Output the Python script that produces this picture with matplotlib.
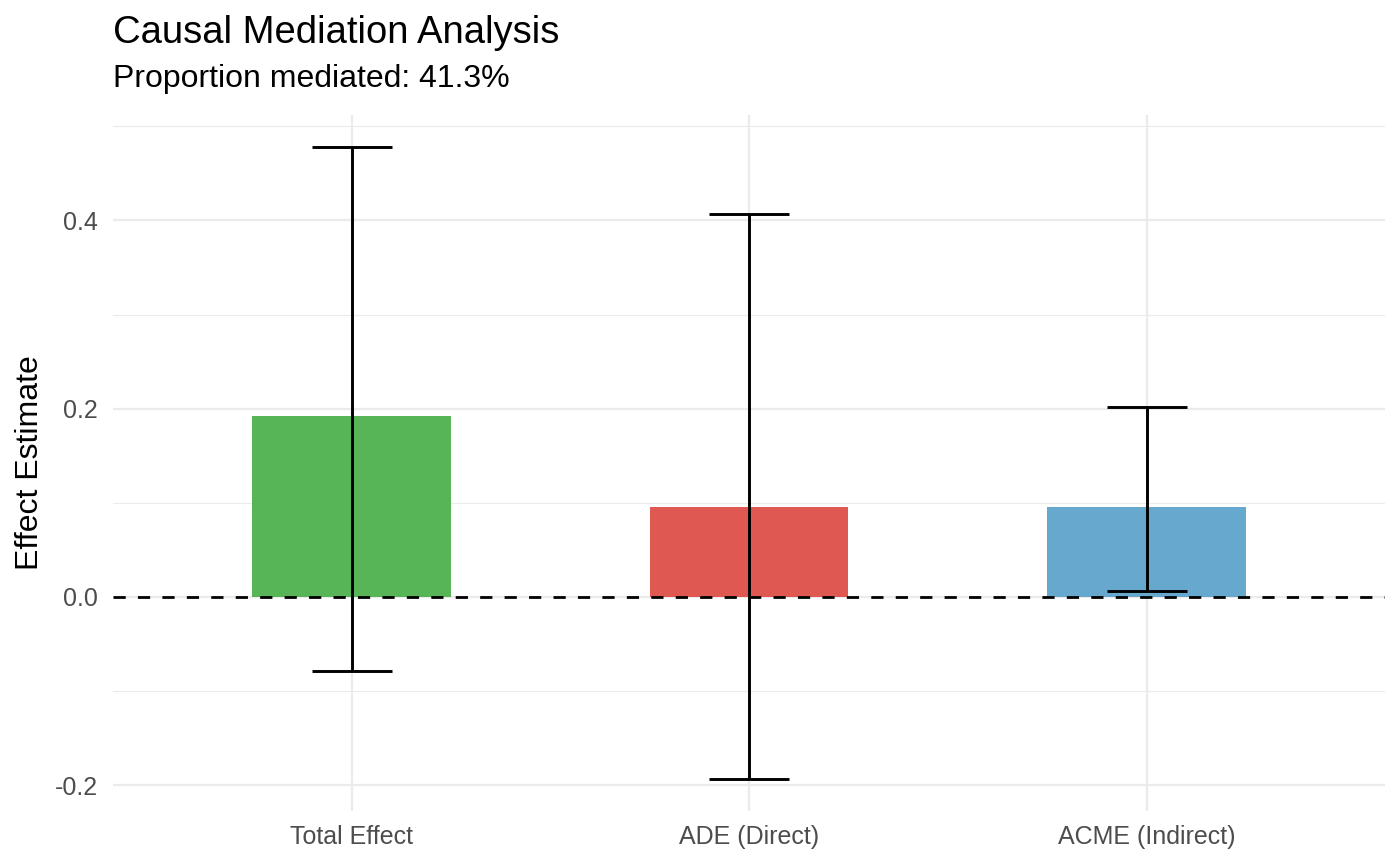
import numpy as np
import matplotlib.pyplot as plt

plt.rcParams['font.family'] = ['Liberation Sans', 'DejaVu Sans']

# Data
categories = ["Total Effect", "ADE (Direct)", "ACME (Indirect)"]
estimates = [0.192, 0.0955, 0.0957]
ci_lower = [-0.0785, -0.194, 0.0064]
ci_upper = [0.4785, 0.4074, 0.2016]
bar_colors = ["#57B457", "#DF5952", "#67A8CF"]
subtitle = "Proportion mediated: 41.3%"

fig = plt.figure(figsize=(14, 8.66), dpi=100)
ax = fig.add_axes([113 / 1400, 1 - 811 / 866, (1385 - 113) / 1400, (811 - 115) / 866])

x = np.arange(1, len(categories) + 1)

# ggplot-style expanded limits
lo = min(min(ci_lower), 0)
hi = max(max(ci_upper), 0)
span = hi - lo
ax.set_ylim(lo - 0.05 * span, hi + 0.05 * span)
ax.set_xlim(0.4, len(categories) + 0.6)

# Grid
for yv in [-0.1, 0.1, 0.3, 0.5]:
    ax.axhline(yv, color="#EBEBEB", lw=0.8, zorder=0)
for yv in [-0.2, 0.0, 0.2, 0.4]:
    ax.axhline(yv, color="#EBEBEB", lw=1.6, zorder=0)
for xv in x:
    ax.axvline(xv, color="#EBEBEB", lw=1.6, zorder=0)

ax.bar(x, estimates, width=0.5, color=bar_colors, zorder=2)

# Zero reference line
zero = ax.axhline(0, color="black", lw=2.0, zorder=3)
zero.set_dashes((4.4, 4.4))

# Error bars
est = np.array(estimates)
yerr = np.array([est - np.array(ci_lower), np.array(ci_upper) - est])
ax.errorbar(x, est, yerr=yerr, fmt="none", ecolor="black", elinewidth=2.1,
            capsize=28.5, capthick=2.1, zorder=4)

ax.set_yticks([-0.2, 0.0, 0.2, 0.4])
ax.set_yticklabels(["-0.2", "0.0", "0.2", "0.4"])
ax.set_xticks(x)
ax.set_xticklabels(categories)
ax.tick_params(axis="both", length=0, labelsize=18, labelcolor="#4D4D4D")
ax.tick_params(axis="y", pad=11)
ax.tick_params(axis="x", pad=10)

for s in ax.spines.values():
    s.set_visible(False)

fig.text(30 / 1400, 1 - 463 / 866, "Effect Estimate", rotation=90,
         ha="center", va="center", fontsize=23, color="black")
fig.text(113 / 1400, 1 - 43 / 866, "Causal Mediation Analysis",
         ha="left", va="baseline", fontsize=27.5, color="black")
fig.text(113 / 1400, 1 - 87 / 866, subtitle,
         ha="left", va="baseline", fontsize=23, color="black")

fig.savefig("out.png", dpi=100)
